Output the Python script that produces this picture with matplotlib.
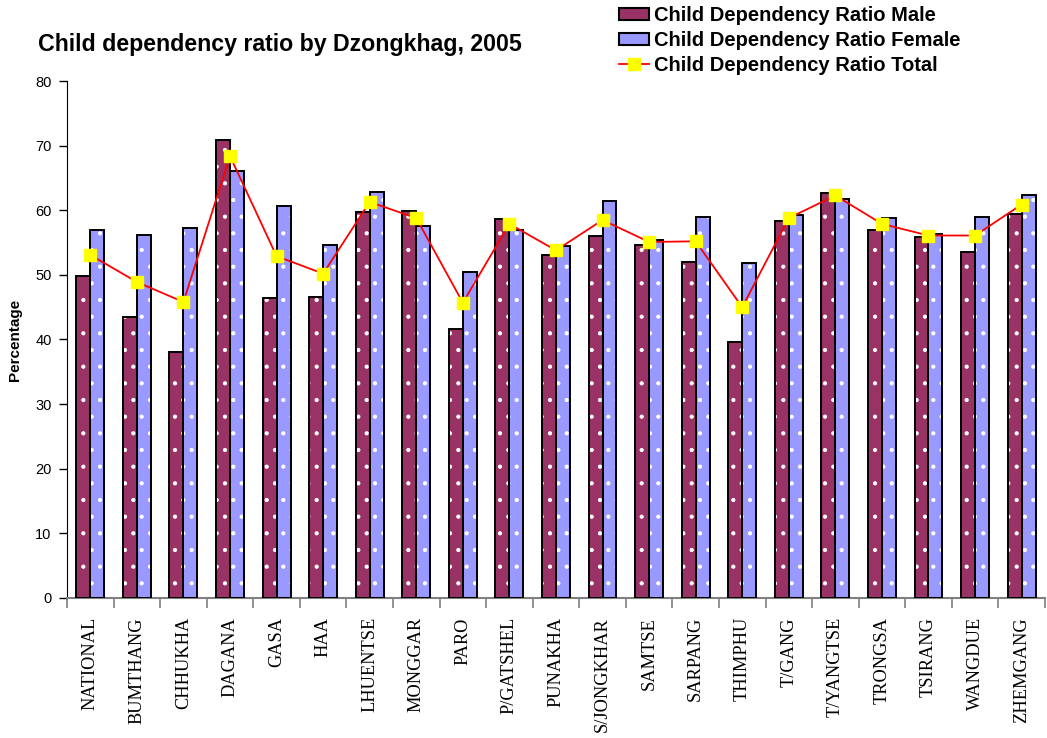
import numpy as np
import matplotlib
matplotlib.use("Agg")
import matplotlib.pyplot as plt
from matplotlib.patches import Patch
from matplotlib.lines import Line2D

# ── data ──────────────────────────────────────────────────────────────────────
dzongkhags = ["NATIONAL", "BUMTHANG", "CHHUKHA", "DAGANA", "GASA", "HAA",
              "LHUENTSE", "MONGGAR", "PARO", "P/GATSHEL", "PUNAKHA",
              "S/JONGKHAR", "SAMTSE", "SARPANG", "THIMPHU", "T/GANG",
              "T/YANGTSE", "TRONGSA", "TSIRANG", "WANGDUE", "ZHEMGANG"]
male = [49.8, 43.5, 38.0, 70.9, 46.5, 46.6, 59.8, 59.9, 41.7, 58.7, 53.1,
        56.0, 54.7, 52.0, 39.6, 58.4, 62.7, 57.0, 55.9, 53.6, 59.4]
female = [57.0, 56.2, 57.3, 66.1, 60.7, 54.7, 62.9, 57.5, 50.5, 57.0, 54.5,
          61.4, 55.4, 59.0, 51.8, 59.2, 61.8, 58.8, 56.4, 59.0, 62.4]
total = [53.1, 48.9, 45.8, 68.4, 52.9, 50.2, 61.3, 58.8, 45.7, 57.9, 53.8,
         58.5, 55.1, 55.2, 45.0, 58.8, 62.3, 57.9, 56.1, 56.1, 60.9]

MALE_C = '#993366'
FEMALE_C = '#9999FF'
SANS = ['Liberation Sans', 'DejaVu Sans']
SERIF = ['Liberation Serif', 'DejaVu Serif']

plt.rcParams['hatch.linewidth'] = 0.6

fig = plt.figure(figsize=(10.47, 7.38), dpi=100, facecolor='white')
ax = fig.add_axes([0.064, 0.190, 0.934, 0.700])

x = np.arange(len(dzongkhags))
w = 0.3

# filled bars with sparse white dots, then black outlines on top
for vals, off, col in [(male, -w / 2, MALE_C), (female, w / 2, FEMALE_C)]:
    ax.bar(x + off, vals, w, color=col, edgecolor='white', linewidth=0,
           hatch='.', zorder=2)
    ax.bar(x + off, vals, w, fill=False, edgecolor='black', linewidth=1.4,
           zorder=3)

ax.plot(x, total, color='red', lw=1.3, marker='s', ms=8,
        mfc='yellow', mec='yellow', zorder=4)

ax.set_xlim(-0.5, len(dzongkhags) - 0.5)
ax.set_ylim(0, 80)
ax.set_yticks(range(0, 81, 10))
ax.tick_params(axis='y', direction='out', length=6, width=1, labelsize=10.5,
               pad=5)
for lbl in ax.get_yticklabels():
    lbl.set_family(SANS)

# category boundary ticks on x, names centred under each pair
ax.set_xticks(np.arange(-0.5, len(dzongkhags) + 0.5, 1.0))
ax.set_xticklabels([])
ax.set_xticks(x, minor=True)
ax.set_xticklabels(dzongkhags, minor=True, rotation=90, fontsize=13.2,
                   family=SERIF, va='top', ha='center')
ax.tick_params(axis='x', which='major', direction='out', length=7,
               width=1.2, color='#808080')
ax.tick_params(axis='x', which='minor', length=0, pad=14)

for s in ['top', 'right']:
    ax.spines[s].set_visible(False)
ax.spines['left'].set_color('black')
ax.spines['bottom'].set_color('#808080')
ax.spines['bottom'].set_linewidth(1.5)

fig.text(0.014, (738 - 340) / 738, 'Percentage', rotation=90, ha='center',
         va='center', fontsize=11, fontweight='bold', family=SANS)

fig.text(38 / 1047, 1 - 45 / 738, 'Child dependency ratio by Dzongkhag, 2005',
         ha='left', va='center', fontsize=16.7, fontweight='bold', family=SANS)

handles = [
    Patch(facecolor=MALE_C, edgecolor='black', linewidth=1.5),
    Patch(facecolor=FEMALE_C, edgecolor='black', linewidth=1.5),
    Line2D([], [], color='red', lw=1.3, marker='s', ms=8,
           mfc='yellow', mec='yellow'),
]
labels = ['Child Dependency Ratio Male', 'Child Dependency Ratio Female',
          'Child Dependency Ratio Total']
fig.legend(handles, labels, loc='upper left',
           bbox_to_anchor=(619 / 1047, 1 - 6 / 738), frameon=False,
           prop=dict(family=SANS, weight='bold', size=14.5),
           handlelength=1.5, handleheight=0.55, handletextpad=0.25,
           labelspacing=0.3, borderpad=0.0, borderaxespad=0.0)

fig.savefig('out.png', dpi=100)
